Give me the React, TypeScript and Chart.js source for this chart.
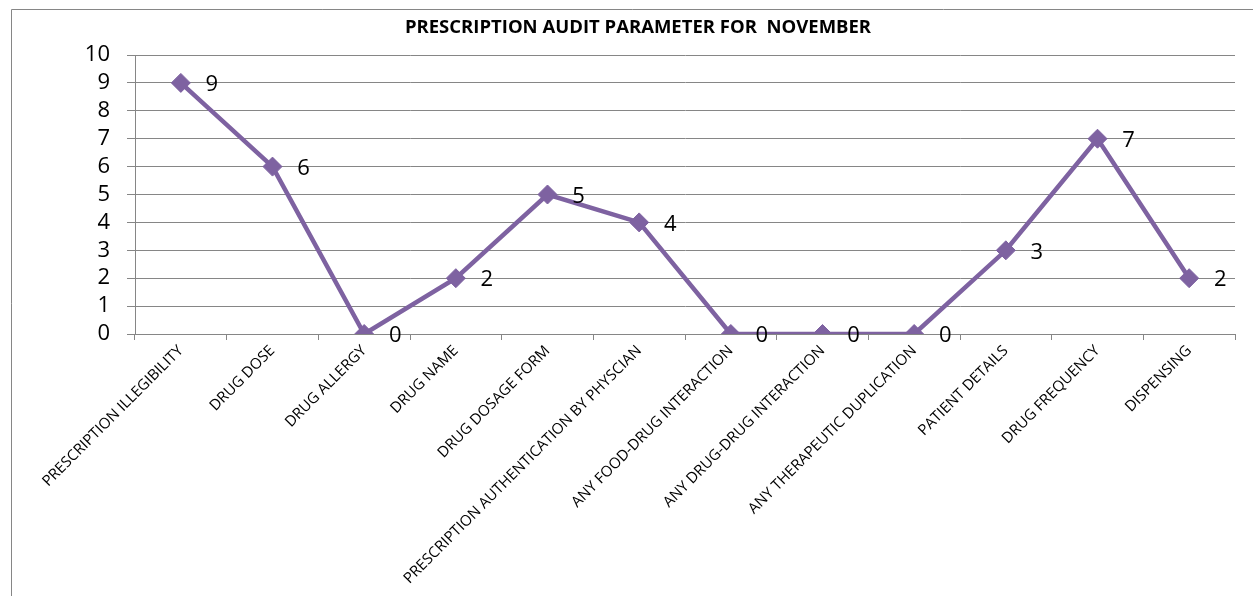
import React, { useEffect, useRef } from "react";
import { Chart, registerables } from "chart.js";

Chart.register(...registerables);

const TITLE = "PRESCRIPTION AUDIT PARAMETER FOR  NOVEMBER";
const CATEGORIES = [
  "PRESCRIPTION ILLEGIBILITY",
  "DRUG DOSE",
  "DRUG ALLERGY",
  "DRUG NAME",
  "DRUG DOSAGE FORM",
  "PRESCRIPTION AUTHENTICATION BY PHYSCIAN",
  "ANY FOOD-DRUG INTERACTION",
  "ANY DRUG-DRUG INTERACTION",
  "ANY THERAPEUTIC DUPLICATION",
  "PATIENT DETAILS",
  "DRUG FREQUENCY",
  "DISPENSING",
];
const VALUES = [9, 6, 0, 2, 5, 4, 0, 0, 0, 3, 7, 2];
const Y_MIN = 0;
const Y_MAX = 10;
const Y_STEP = 1;

const FONT = "'Open Sans', 'Liberation Sans', sans-serif";
const LINE_COLOR = "#7E62A1";
const GRID_COLOR = "#868686";

const frameAndLabels = {
  id: "frameAndLabels",
  afterDraw(chart: any) {
    const ctx = chart.ctx;
    ctx.save();
    // outer frame
    ctx.strokeStyle = GRID_COLOR;
    ctx.lineWidth = 1;
    ctx.beginPath();
    ctx.moveTo(11.5, 700);
    ctx.lineTo(11.5, 9.5);
    ctx.lineTo(1300, 9.5);
    ctx.stroke();
    // title
    ctx.fillStyle = "#000";
    ctx.font = `bold 18.5px ${FONT}`;
    ctx.textAlign = "center";
    ctx.textBaseline = "middle";
    ctx.fillText(TITLE, 638, 28);
    // data labels
    const meta = chart.getDatasetMeta(0);
    ctx.font = `22px ${FONT}`;
    meta.data.forEach((pt: any, i: number) => {
      ctx.fillText(String(VALUES[i]), pt.x + 31, pt.y + 2);
    });
    ctx.restore();
  },
};

export default function App() {
  const ref = useRef<HTMLCanvasElement>(null);
  useEffect(() => {
    const chart = new Chart(ref.current!, {
      type: "line",
      data: {
        labels: CATEGORIES,
        datasets: [
          {
            data: VALUES,
            borderColor: LINE_COLOR,
            backgroundColor: LINE_COLOR,
            borderWidth: 4.5,
            pointStyle: "rectRot",
            pointRadius: 9.5,
            pointBorderWidth: 1,
            pointBackgroundColor: LINE_COLOR,
            pointBorderColor: LINE_COLOR,
            tension: 0,
          },
        ],
      },
      options: {
        responsive: false,
        animation: false,
        layout: { padding: { top: 55, left: 0, right: 18, bottom: 0 } },
        plugins: {
          legend: { display: false },
          title: { display: false },
          tooltip: { enabled: false },
        },
        scales: {
          x: {
            type: "category",
            offset: true,
            grid: {
              offset: true,
              drawOnChartArea: false,
              drawTicks: true,
              tickLength: 6,
              color: GRID_COLOR,
            },
            border: { display: true, color: GRID_COLOR, width: 1 },
            ticks: {
              autoSkip: false,
              maxRotation: 45,
              minRotation: 45,
              padding: 2,
              color: "#000",
              font: { family: FONT, size: 15 },
            },
            afterFit(scale: any) {
              scale.height = 262;
            },
          },
          y: {
            min: Y_MIN,
            max: Y_MAX,
            grid: {
              color: GRID_COLOR,
              drawTicks: true,
              tickLength: 8,
            },
            border: { display: true, color: GRID_COLOR, width: 1 },
            ticks: {
              stepSize: Y_STEP,
              autoSkip: false,
              padding: 17,
              color: "#000",
              font: { family: FONT, size: 22 },
            },
            afterFit(scale: any) {
              scale.width = 135;
            },
          },
        },
      },
      plugins: [frameAndLabels],
    });
    return () => chart.destroy();
  }, []);
  return (
    <div style={{ position: "fixed", left: 0, top: 0, width: 1253, height: 596, background: "#fff" }}>
      <canvas ref={ref} width={1253} height={596} style={{ display: "block" }} />
    </div>
  );
}
